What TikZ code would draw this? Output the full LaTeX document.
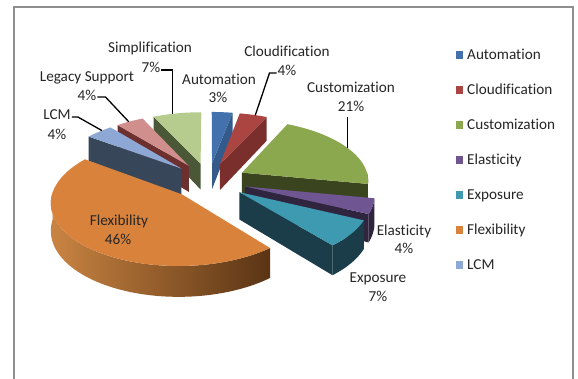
\documentclass[tikz,border=0pt]{standalone}
\usepackage{fontspec}
\setmainfont{Carlito}[Ligatures=NoCommon]
\usetikzlibrary{calc}

% slice colours: top face, cut/side face
\definecolor{autoT}{HTML}{4271AE}\definecolor{autoS}{HTML}{335A8B}
\definecolor{cloudT}{HTML}{AA4542}\definecolor{cloudS}{HTML}{7A2F2D}
\definecolor{custT}{HTML}{8BA84F}\definecolor{custS}{HTML}{3A4520}
\definecolor{elasT}{HTML}{6F5592}\definecolor{elasS}{HTML}{30253F}
\definecolor{expoT}{HTML}{3E9AB0}\definecolor{expoS}{HTML}{1B3D49}
\definecolor{flexT}{HTML}{D9823B}\definecolor{flexL}{HTML}{C98442}\definecolor{flexR}{HTML}{5A3414}
\definecolor{lcmT}{HTML}{8EA8D6}\definecolor{lcmS}{HTML}{38465A}
\definecolor{legT}{HTML}{D08E8C}\definecolor{legS}{HTML}{6C302E}
\definecolor{simpT}{HTML}{B6CC8E}\definecolor{simpS}{HTML}{4B5838}
\definecolor{txt}{HTML}{262626}
\definecolor{framegray}{HTML}{8E8E8E}

% pie projection (pt): centre x, horizontal scale, perspective factor,
% centre height, depth scale, thickness, explosion (in radii)
\def\pieCx{208.6}\def\pieSx{126.8}\def\pieG{0.11}
\def\pieYo{198.2}\def\pieA{60.56}\def\pieT{26.7}\def\pieEx{0.3}
% screen position of plane point (u,v); #3 = 0 top, 1 bottom
\newcommand\pieX[2]{\pieCx+\pieSx*(#1)/(1+\pieG*(#2))}
\newcommand\pieY[3]{\pieYo+(\pieA*(#2)-\pieT*(#3))/(1+\pieG*(#2))}

% offset of the slice running from #1 to #2 degrees (clockwise from 12 o'clock)
\newcommand\piegeom[2]{%
  \pgfmathsetmacro\pmid{(#1+#2)/2}%
  \pgfmathsetmacro\pou{\pieEx*sin(\pmid)}%
  \pgfmathsetmacro\pov{\pieEx*cos(\pmid)}}
% radial cut face at angle #1
\newcommand\piecut[2]{%
  \fill[#2] ({\pieX{\pou}{\pov}},{\pieY{\pou}{\pov}{0}})
    -- ({\pieX{\pou+sin(#1)}{\pov+cos(#1)}},{\pieY{\pou+sin(#1)}{\pov+cos(#1)}{0}})
    -- ({\pieX{\pou+sin(#1)}{\pov+cos(#1)}},{\pieY{\pou+sin(#1)}{\pov+cos(#1)}{1}})
    -- ({\pieX{\pou}{\pov}},{\pieY{\pou}{\pov}{1}}) -- cycle;}
% outer wall from #1 to #2
\newcommand\piewall[3]{%
  \path[#3] plot[domain=#1:#2,samples=50,variable=\t]
      ({\pieX{\pou+sin(\t)}{\pov+cos(\t)}},{\pieY{\pou+sin(\t)}{\pov+cos(\t)}{0}})
    -- plot[domain=#2:#1,samples=50,variable=\t]
      ({\pieX{\pou+sin(\t)}{\pov+cos(\t)}},{\pieY{\pou+sin(\t)}{\pov+cos(\t)}{1}}) -- cycle;}
% top face
\newcommand\pietop[3]{%
  \fill[#3] ({\pieX{\pou}{\pov}},{\pieY{\pou}{\pov}{0}})
    -- plot[domain=#1:#2,samples=50,variable=\t]
      ({\pieX{\pou+sin(\t)}{\pov+cos(\t)}},{\pieY{\pou+sin(\t)}{\pov+cos(\t)}{0}}) -- cycle;}
% point on the top rim of the current slice
\newcommand\pierim[2]{\coordinate (#1) at
  ({\pieX{\pou+sin(#2)}{\pov+cos(#2)}},{\pieY{\pou+sin(#2)}{\pov+cos(#2)}{0}});}

\tikzset{
  lbl/.style={inner sep=1pt, text height=9.8pt, text depth=0pt, text=txt},
  leader/.style={draw=black, line width=1.3pt},
  frame/.style={draw=framegray, line width=1.6pt}
}

\begin{document}
\begin{tikzpicture}[x=1pt,y=1pt,font=\fontsize{15.2}{18}\selectfont]
\useasboundingbox (0,0) rectangle (578,379);
\fill[white] (0,0) rectangle (578,379);
\draw[frame] (14,-2) -- (14,372) -- (573,372) -- (573,-2);

% slices, back to front
\piegeom{334.8}{360}\piecut{334.8}{simpS}\pietop{334.8}{360}{simpT}\pierim{simpTip}{345}
\piegeom{0}{10.8}\piecut{10.8}{autoS}\pietop{0}{10.8}{autoT}
\piegeom{320.4}{334.8}\piecut{320.4}{legS}\pietop{320.4}{334.8}{legT}\pierim{legTip}{327}
\piegeom{10.8}{25.2}\piecut{25.2}{cloudS}\pietop{10.8}{25.2}{cloudT}\pierim{cloudTip}{19}
\piegeom{306}{320.4}\piecut{306}{lcmS}\pietop{306}{320.4}{lcmT}\pierim{lcmTip}{315}
\piegeom{25.2}{100.8}\piewall{90}{100.8}{fill=custS}\piecut{100.8}{custS}\pietop{25.2}{100.8}{custT}\pierim{custTip}{64}
\piegeom{100.8}{115.2}\piewall{100.8}{115.2}{fill=elasS}\piecut{115.2}{elasS}\pietop{100.8}{115.2}{elasT}
\piegeom{115.2}{140.4}\piewall{115.2}{140.4}{fill=expoS}\piecut{140.4}{expoS}\pietop{115.2}{140.4}{expoT}
\piegeom{140.4}{306}\piewall{140.4}{272}{left color=flexL,right color=flexR}\pietop{140.4}{306}{flexT}

% data labels
\node[lbl] (simpName) at (150,331) {Simplification};
\node[lbl] (simpPct) at (151,311) {7\%};
\node[lbl] (legName) at (87,302) {Legacy Support};
\node[lbl] (legPct) at (87,283) {4\%};
\node[lbl] (lcmName) at (57,264) {LCM};
\node[lbl] (lcmPct) at (57,244) {4\%};
\node[lbl] (autoName) at (219,299) {Automation};
\node[lbl] (autoPct) at (218,281) {3\%};
\node[lbl] (cloudName) at (287,327) {Cloudification};
\node[lbl] (cloudPct) at (287,308) {4\%};
\node[lbl] (custName) at (351,291) {Customization};
\node[lbl] (custPct) at (351,272) {21\%};
\node[lbl] (elasName) at (404,148) {Elasticity};
\node[lbl] (elasPct) at (404,130) {4\%};
\node[lbl] (expoName) at (378,101) {Exposure};
\node[lbl] (expoPct) at (378,82) {7\%};
\node[lbl] (flexName) at (119,158) {Flexibility};
\node[lbl] (flexPct) at (118,139) {46\%};

% leader lines
\draw[leader] ([yshift=-2pt]simpPct.east) -| (simpTip);
\draw[leader] ([yshift=-1pt]legPct.east) -- ++(8,0) -- (legTip);
\draw[leader] ([yshift=-2pt]lcmName.east) -- ++(6,0) -- (lcmTip);
\draw[leader] ([yshift=-2pt]cloudPct.west) -- ++(-7,0) -- (cloudTip);
\draw[leader] ([yshift=-4pt]custTip |- custPct.south) -- (custTip);

% legend
\foreach \nm/\col [count=\i] in {Automation/autoT,Cloudification/cloudT,Customization/custT,
    Elasticity/elasT,Exposure/expoT,Flexibility/flexT,LCM/lcmT}{
  \fill[\col] (455.7,{324-35*(\i-1)-3.8}) rectangle ++(7.6,7.6);
  \node[lbl,anchor=west] (key\i) at (466,{324-35*(\i-1)}) {\nm};
}
\end{tikzpicture}
\end{document}
